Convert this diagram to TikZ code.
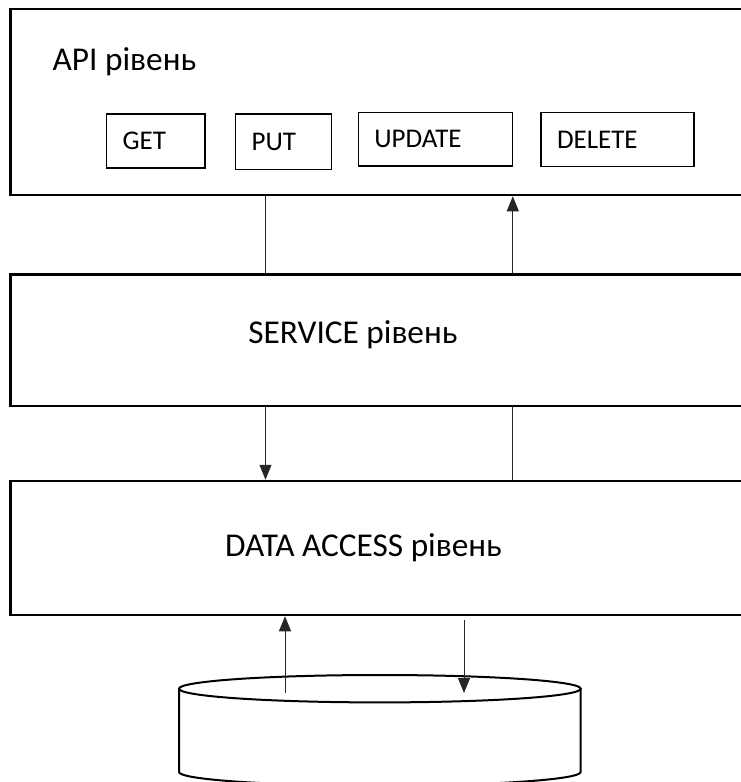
\documentclass[tikz,border=0pt]{standalone}
\usepackage{fontspec}
\setmainfont{Carlito}
\usetikzlibrary{arrows.meta,calc}

\tikzset{
  layerbox/.style={draw=black, line width=2.5pt, rectangle, inner sep=0pt,
    minimum width=750pt},
  opbox/.style={draw=black, line width=1.4pt, rectangle, inner xsep=16pt,
    inner ysep=0pt, align=left, font=\fontsize{27}{31}\selectfont},
  bigtext/.style={inner sep=0pt, font=\fontsize{33.3}{40}\selectfont},
  conn/.style={draw=black!85, line width=1pt},
  connarrow/.style={conn, -{Triangle[length=15pt,width=12pt]}},
  dbline/.style={draw=black, line width=2pt},
}

\begin{document}
\begin{tikzpicture}[x=1pt, y=1pt]
  \clip (0,0) rectangle (741,-782);
  \fill[white] (0,0) rectangle (741,-782);

  % three layers (right side runs past the page edge)
  \node[layerbox, minimum height=186pt]   (api)     at (385.5,-102)    {};
  \node[layerbox, minimum height=131.5pt] (service) at (385.5,-340.25) {};
  \node[layerbox, minimum height=134pt]   (data)    at (385.5,-548)    {};

  % layer titles
  \node[bigtext, anchor=base west] (apititle) at (52.5,-70) {API рівень};
  \node[bigtext, anchor=base] (servicetitle) at (353,-343.5) {SERVICE рівень};
  \node[bigtext, anchor=base] (datatitle) at (363.5,-556.7) {DATA ACCESS рівень};

  % HTTP operations inside the API layer
  \node[opbox, text width=66.3pt, minimum height=54pt]   (get)    at (155.85,-141)  {GET};
  \node[opbox, text width=64pt,   minimum height=55.3pt] (put)    at (283.7,-141.7) {PUT};
  \node[opbox, text width=122.4pt,minimum height=53.3pt] (update) at (435.5,-139.35) {UPDATE};
  \node[opbox, text width=121pt,  minimum height=54pt]   (delete) at (617.5,-139.7) {DELETE};

  % database cylinder
  \draw[dbline] (179,-688.7) -- (179,-772)
    arc[start angle=180, end angle=360, x radius=200.85pt, y radius=13.7pt]
    -- (580.7,-688.7);
  \draw[dbline] (379.85,-688.7) ellipse[x radius=200.85pt, y radius=13.7pt];
  \coordinate (db) at (379.85,-693);

  % connector columns
  \coordinate (colA) at (265.5,0);
  \coordinate (colB) at (512.8,0);
  \coordinate (colC) at (285,0);
  \coordinate (colD) at (464,0);

  % API <-> SERVICE
  \draw[conn] (api.south -| colA) -- (service.north -| colA);
  \draw[connarrow] (service.north -| colB) -- (api.south -| colB);

  % SERVICE <-> DATA ACCESS
  \draw[connarrow] (service.south -| colA) -- (data.north -| colA);
  \draw[conn] (service.south -| colB) -- (data.north -| colB);

  % DATA ACCESS <-> database
  \draw[connarrow] (db -| colC) -- (data.south -| colC);
  \draw[connarrow] ($(data.south -| colD)+(0,-4)$) -- (db -| colD);
\end{tikzpicture}
\end{document}
